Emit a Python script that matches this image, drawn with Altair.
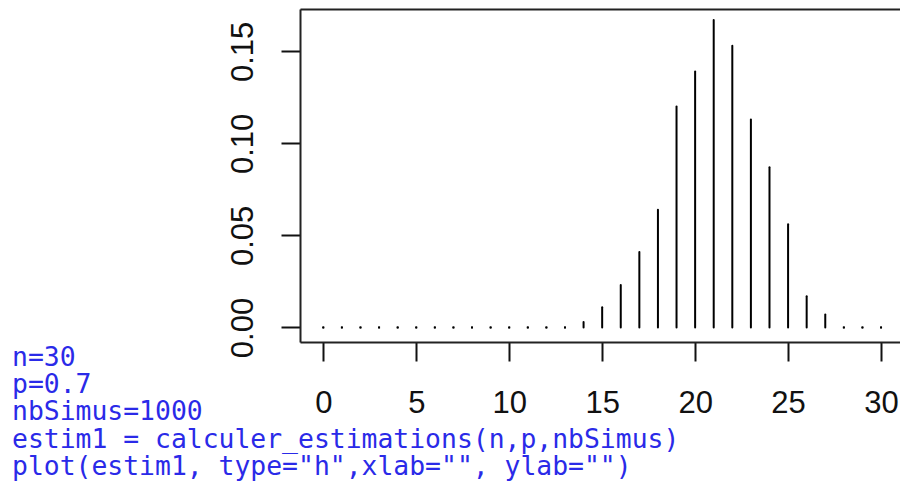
import altair as alt
import pandas as pd

# Data (estimated frequencies, 1000 simulations)
k_values = list(range(0, 31))
freq = [0, 0, 0, 0, 0, 0, 0, 0, 0, 0, 0, 0, 0, 0,
        0.003, 0.011, 0.023, 0.041, 0.064, 0.120, 0.139, 0.167,
        0.153, 0.113, 0.087, 0.056, 0.017, 0.007, 0, 0, 0]
x_ticks = [0, 5, 10, 15, 20, 25, 30]
y_ticks = [0.00, 0.05, 0.10, 0.15]
code_lines = [
    "n=30",
    "p=0.7",
    "nbSimus=1000",
    "estim1 = calculer_estimations(n,p,nbSimus)",
    'plot(estim1, type="h",xlab="", ylab="")',
]

df = pd.DataFrame({"k": k_values, "p": freq})

x_scale = alt.Scale(domain=[-1.253, 31.02], nice=False, zero=False)
y_scale = alt.Scale(domain=[-0.0079, 0.1730], nice=False, zero=False)

axis_common = dict(
    grid=False,
    domainColor="#222222",
    domainWidth=2,
    tickColor="#111111",
    tickWidth=2,
    tickSize=19,
    labelFont="Liberation Sans",
    labelFontSize=31,
    labelColor="#111111",
    labelBaseline="alphabetic",
    title=None,
)

base = alt.Chart(df)

bars = base.mark_rule(strokeWidth=2, color="black", strokeCap="round").encode(
    x=alt.X("k:Q", scale=x_scale,
            axis=alt.Axis(orient="bottom", values=x_ticks, format="d",
                          labelPadding=51, labelAlign="center", **axis_common)),
    y=alt.Y("p:Q", scale=y_scale,
            axis=alt.Axis(orient="left", values=y_ticks, format=".2f",
                          labelAngle=270, labelAlign="center",
                          labelPadding=29, **axis_common)),
    y2=alt.datum(0),
)

dots = base.transform_filter("datum.p == 0").mark_square(
    size=4, color="black", opacity=1
).encode(
    x=alt.X("k:Q", scale=x_scale,
            axis=alt.Axis(orient="top", labels=False, ticks=False, grid=False,
                          domain=True, domainColor="#222222", domainWidth=2,
                          title=None)),
    y=alt.Y("p:Q", scale=y_scale, axis=None),
)

chart = alt.layer(bars, dots).resolve_axis(x="independent", y="independent").properties(
    width=600,
    height=333,
    autosize=alt.AutoSizeParams(type="none"),
    padding={"left": 292, "top": 1, "right": 0, "bottom": 140},
    title=alt.TitleParams(
        text=code_lines,
        orient="bottom",
        anchor="start",
        frame="group",
        font="DejaVu Sans Mono",
        fontSize=26.4,
        fontWeight="normal",
        color="#2A2AE8",
        lineHeight=27.2,
        baseline="alphabetic",
        dx=-288,
        dy=-52,
        offset=0,
    ),
).configure_view(stroke=None).configure(background="white")

chart.save("out.html", embed_options={"renderer": "svg", "actions": False})
